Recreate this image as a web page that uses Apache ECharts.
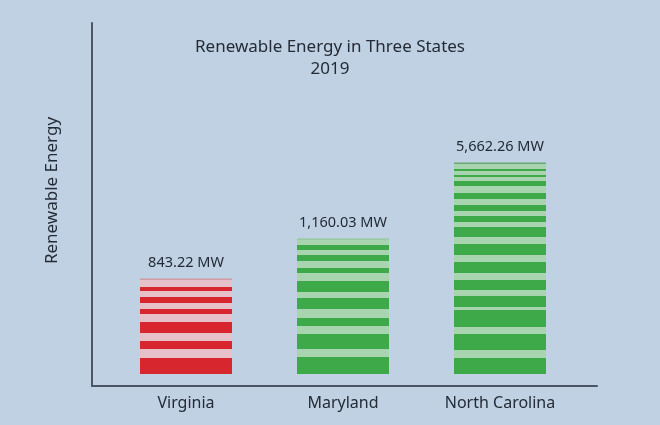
<!DOCTYPE html>
<html>
<head>
<meta charset="utf-8">
<script src="https://cdn.jsdelivr.net/npm/echarts@6/dist/echarts.min.js"></script>
<style>
  html, body { margin: 0; padding: 0; background: #bfd1e2; }
  #chart { width: 660px; height: 425px; }
</style>
</head>
<body>
<div id="chart"></div>
<script>
// ---------- data ----------
const categories = ['Virginia', 'Maryland', 'North Carolina'];
const capacityMW = [843.22, 1160.03, 5662.26];
const unit = 'MW';
const titleLines = ['Renewable Energy in Three States', '2019'];
const yAxisTitle = 'Renewable Energy';
// the reference cuts its tallest bar short; bars are drawn up to this level
const drawnCapMW = 1755;

// ---------- styles (stripe bands as fractions of each bar, top -> bottom) ----------
const stripeStyles = [
  { stripe: '#d8262f', pale: '#e6c1c9', top: '#d39aa3', paleEnd: 0.888, cap: [0, 0.014],
    bands: [[0.075,0.112],[0.168,0.224],[0.285,0.327],[0.407,0.505],[0.579,0.659],[0.738,0.888]] },
  { stripe: '#3da949', pale: '#a8d5b0', top: '#9bc9a3', paleEnd: 0.919, cap: [0, 0.010],
    bands: [[0.044,0.081],[0.114,0.154],[0.201,0.238],[0.289,0.366],[0.403,0.477],[0.537,0.597],[0.651,0.752],[0.805,0.919]] },
  { stripe: '#3da949', pale: '#a8d5b0', top: '#6aa873', paleEnd: 0.946, cap: [0, 0.009],
    bands: [[0.031,0.038],[0.054,0.063],[0.085,0.107],[0.138,0.165],[0.192,0.217],[0.241,0.268],[0.290,0.335],[0.366,0.415],[0.446,0.496],[0.527,0.571],[0.598,0.645],[0.661,0.737],[0.768,0.839],[0.875,0.946]] }
];

function stripeGradient(s) {
  const stops = [];
  const add = (a, b, c) => { stops.push({ offset: a, color: c }, { offset: b, color: c }); };
  add(s.cap[0], s.cap[1], s.top);
  let cur = s.cap[1];
  for (const [a, b] of s.bands) {
    if (a > cur) add(cur, a, s.pale);
    add(a, b, s.stripe);
    cur = b;
  }
  if (cur < s.paleEnd) add(cur, s.paleEnd, s.pale);
  add(s.paleEnd, 1, 'rgba(0,0,0,0)');
  return new echarts.graphic.LinearGradient(0, 0, 0, 1, stops);
}

const fmt = v => v.toLocaleString('en-US', { minimumFractionDigits: 2, maximumFractionDigits: 2 });
const FONT = '"Noto Sans", sans-serif';
const TEXT = '#242b36';
const AXIS = '#4b5567';

const chart = echarts.init(document.getElementById('chart'), null, { renderer: 'canvas' });
chart.setOption({
  backgroundColor: '#bfd1e2',
  animation: false,
  title: {
    text: titleLines.join('\n'),
    left: 'center',
    top: 31,
    textStyle: { fontFamily: FONT, fontSize: 17, fontWeight: 'normal', color: TEXT, lineHeight: 22 }
  },
  grid: [
    { left: 92, right: 63, top: 23, bottom: 39, outerBoundsMode: 'none' },
    { left: 107.5, right: 81.5, top: 23, bottom: 39, outerBoundsMode: 'none' }
  ],
  xAxis: [
    { type: 'value', gridIndex: 0, min: 0, max: 1,
      axisLine: { show: true, onZero: false, lineStyle: { color: AXIS, width: 2 } },
      axisTick: { show: false }, axisLabel: { show: false }, splitLine: { show: false } },
    { type: 'category', gridIndex: 1, data: categories,
      axisLine: { show: false }, axisTick: { show: false }, splitLine: { show: false },
      axisLabel: { margin: 9, fontFamily: FONT, fontSize: 16, color: TEXT } }
  ],
  yAxis: [
    { type: 'value', gridIndex: 0, min: 0, max: 1,
      name: yAxisTitle, nameLocation: 'middle', nameGap: 31,
      nameTextStyle: { fontFamily: FONT, fontSize: 17, color: TEXT, padding: [0, 0, 0, 28] },
      axisLine: { show: true, onZero: false, lineStyle: { color: AXIS, width: 2 } },
      axisTick: { show: false }, axisLabel: { show: false }, splitLine: { show: false } },
    { type: 'value', gridIndex: 1, min: 0, max: 2850, show: false, splitLine: { show: false } }
  ],
  series: [{
    type: 'bar',
    xAxisIndex: 1,
    yAxisIndex: 1,
    barWidth: 92,
    data: capacityMW.map((v, i) => ({
      value: Math.min(v, drawnCapMW),
      itemStyle: { color: stripeGradient(stripeStyles[i]) }
    })),
    label: {
      show: true,
      position: 'top',
      distance: 8,
      fontFamily: FONT,
      fontSize: 14.5,
      color: TEXT,
      formatter: p => fmt(capacityMW[p.dataIndex]) + ' ' + unit
    }
  }]
});
</script>
</body>
</html>
